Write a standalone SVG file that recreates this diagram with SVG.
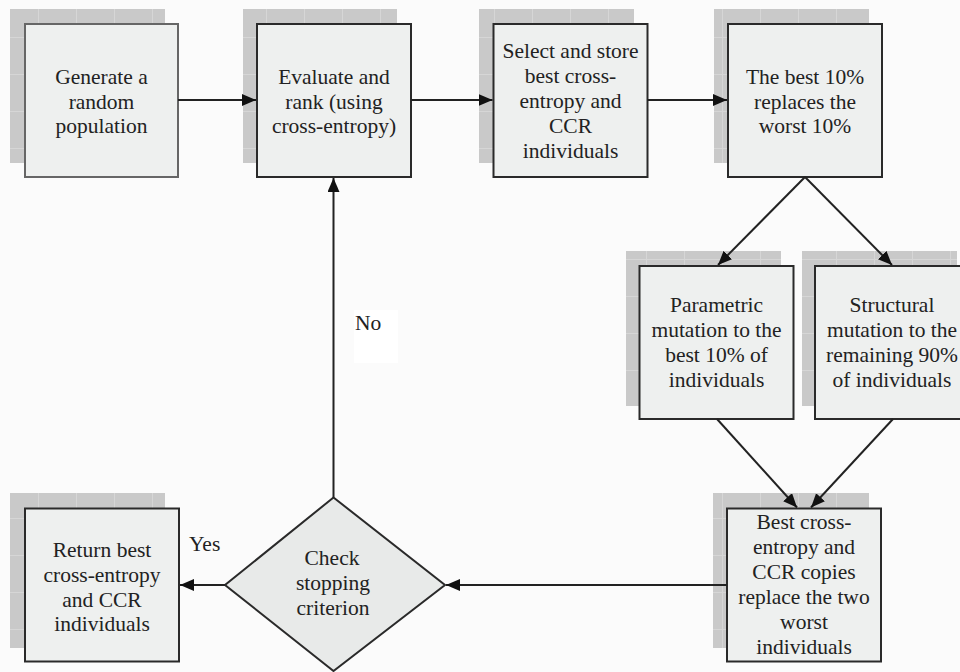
<svg xmlns="http://www.w3.org/2000/svg" width="960" height="672" viewBox="0 0 960 672" font-family="'Liberation Serif', 'Times New Roman', serif" font-size="21.5">
<style>
.box{fill:#eef0ef;stroke:#2a2a2a;stroke-width:2}
.box1{fill:#eef0ef;stroke:#666;stroke-width:2}
.dia{fill:#e8eae9;stroke:#2a2a2a;stroke-width:2}
.shadow{fill:url(#grid)}
.t{fill:#222;text-anchor:middle}
.lbl{fill:#222}
.c{fill:none;stroke:#222;stroke-width:2}
</style>
<defs>
<pattern id="grid" patternUnits="userSpaceOnUse" width="38" height="37">
<rect width="38" height="37" fill="#c9c9c9"/>
<path d="M0 0.5H38M0.5 0V37" stroke="#d6d6d6" stroke-width="1"/>
</pattern>
<marker id="ah" markerUnits="userSpaceOnUse" markerWidth="16" markerHeight="14" refX="14" refY="6" orient="auto">
<path d="M0 0L14 6L0 12Z" fill="#111"/>
</marker>
</defs>
<rect width="960" height="672" fill="#fbfbfb"/>

<g id="n1">
<rect class="shadow" x="10" y="9" width="155" height="154"/>
<rect class="box1" x="25" y="24" width="153" height="153"/>
<text class="t" x="101.5" y="84">Generate a</text>
<text class="t" x="101.5" y="109">random</text>
<text class="t" x="101.5" y="133">population</text>
</g>

<g id="n2">
<rect class="shadow" x="243" y="9" width="154" height="154"/>
<rect class="box" x="257" y="24" width="154" height="153"/>
<text class="t" x="334" y="84">Evaluate and</text>
<text class="t" x="334" y="109">rank (using</text>
<text class="t" x="334" y="133">cross-entropy)</text>
</g>

<g id="n3">
<rect class="shadow" x="479" y="9" width="155" height="154"/>
<rect class="box" x="493.5" y="24" width="154" height="153"/>
<text class="t" x="570.5" y="58">Select and store</text>
<text class="t" x="570.5" y="83">best cross-</text>
<text class="t" x="570.5" y="108">entropy and</text>
<text class="t" x="570.5" y="133">CCR</text>
<text class="t" x="570.5" y="158">individuals</text>
</g>

<g id="n4">
<rect class="shadow" x="714" y="9" width="155" height="154"/>
<rect class="box" x="728" y="24" width="154" height="153"/>
<text class="t" x="805" y="84">The best 10%</text>
<text class="t" x="805" y="109">replaces the</text>
<text class="t" x="805" y="133">worst 10%</text>
</g>

<g id="n5">
<rect class="shadow" x="626" y="251" width="155" height="155"/>
<rect class="box" x="639.5" y="266" width="154" height="153"/>
<text class="t" x="716.5" y="312">Parametric</text>
<text class="t" x="716.5" y="337">mutation to the</text>
<text class="t" x="716.5" y="362">best 10% of</text>
<text class="t" x="716.5" y="387">individuals</text>
</g>

<g id="n6">
<rect class="shadow" x="802" y="251" width="155" height="155"/>
<rect class="box" x="815" y="266" width="154" height="153"/>
<text class="t" x="892" y="312">Structural</text>
<text class="t" x="892" y="337">mutation to the</text>
<text class="t" x="892" y="362">remaining 90%</text>
<text class="t" x="892" y="387">of individuals</text>
</g>

<g id="n7">
<rect class="shadow" x="713" y="493" width="156" height="155"/>
<rect class="box" x="727" y="508.5" width="154" height="153"/>
<text class="t" x="804" y="528.5">Best cross-</text>
<text class="t" x="804" y="553.5">entropy and</text>
<text class="t" x="804" y="578.5">CCR copies</text>
<text class="t" x="804" y="603.5">replace the two</text>
<text class="t" x="804" y="628.5">worst</text>
<text class="t" x="804" y="653.5">individuals</text>
</g>

<g id="n8">
<rect class="shadow" x="10" y="493" width="155" height="155"/>
<rect class="box" x="25" y="508.5" width="154" height="153"/>
<text class="t" x="102" y="557">Return best</text>
<text class="t" x="102" y="582">cross-entropy</text>
<text class="t" x="102" y="607">and CCR</text>
<text class="t" x="102" y="631">individuals</text>
</g>

<g id="n9">
<polygon class="dia" points="333.5,497.5 445,585 333.5,671 225,585"/>
<text class="t" x="332" y="565">Check</text>
<text class="t" x="333" y="590">stopping</text>
<text class="t" x="333" y="615">criterion</text>
</g>

<g id="connectors">
<line class="c" x1="178" y1="100" x2="256" y2="100" marker-end="url(#ah)"/>
<line class="c" x1="411" y1="100" x2="492.5" y2="100" marker-end="url(#ah)"/>
<line class="c" x1="647.5" y1="100" x2="727" y2="100" marker-end="url(#ah)"/>
<line class="c" x1="805" y1="177" x2="718" y2="265" marker-end="url(#ah)"/>
<line class="c" x1="805" y1="177" x2="892" y2="265" marker-end="url(#ah)"/>
<line class="c" x1="717" y1="419" x2="797" y2="507.5" marker-end="url(#ah)"/>
<line class="c" x1="893" y1="419" x2="811" y2="507.5" marker-end="url(#ah)"/>
<line class="c" x1="727" y1="585" x2="446" y2="585" marker-end="url(#ah)"/>
<line class="c" x1="225" y1="585" x2="180" y2="585" marker-end="url(#ah)"/>
<line class="c" x1="333.5" y1="497.5" x2="333.5" y2="178" marker-end="url(#ah)"/>
<rect x="354" y="310" width="44" height="53" fill="#ffffff"/>
<text class="lbl" x="355" y="330">No</text>
<text class="lbl" x="189" y="551">Yes</text>
</g>
</svg>
